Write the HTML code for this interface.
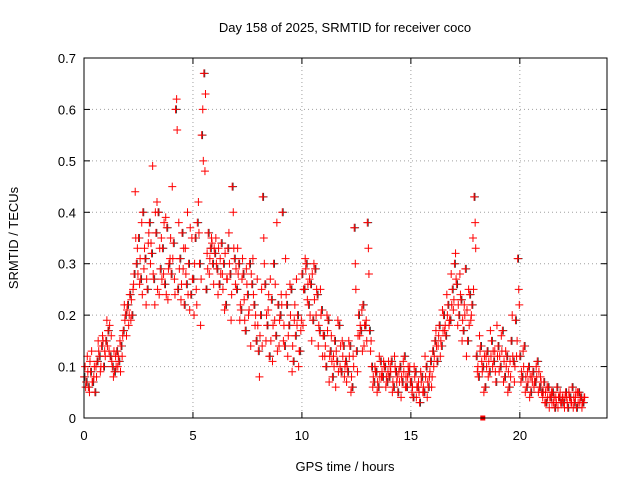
<!DOCTYPE html>
<html><head><meta charset="utf-8"><style>
body{margin:0;background:#fff;}
svg text{font-family:"Liberation Sans",sans-serif;font-size:13px;fill:#000;}
</style></head><body>
<svg id="chart" width="640" height="480" xmlns="http://www.w3.org/2000/svg">
<rect width="640" height="480" fill="#fff"/>
<text x="345" y="32" text-anchor="middle">Day 158 of 2025, SRMTID for receiver coco</text>
<text transform="translate(18,238) rotate(-90)" text-anchor="middle">SRMTID / TECUs</text>
<text x="345" y="471" text-anchor="middle">GPS time / hours</text>
<g id="grid"></g>
<g id="axes"></g>
<g id="black"></g>
<g id="red"></g>
<rect x="84" y="58" width="523" height="360" fill="none" stroke="#000" stroke-width="1"/>
</svg>
<script>
const xTicks=[0,5,10,15,20];
const yTicks=[0,0.1,0.2,0.3,0.4,0.5,0.6,0.7];
const yTickLabels=["0","0.1","0.2","0.3","0.4","0.5","0.6","0.7"];
const t0=0, dt=0.1;
const seriesA=[
.08,.07,.06,.09,.07,.05,.11,.12,.14,.10,
.15,.17,.12,.10,.09,.13,.11,.14,.17,.20,
.22,.24,.20,.28,.30,.35,.27,.40,.31,.25,
.38,.32,.27,.36,.40,.29,.33,.26,.37,.30,
.28,.34,.60,.25,.31,.36,.22,.26,.30,.24,
.27,.35,.38,.30,.55,.67,.25,.36,.33,.30,
.32,.29,.26,.34,.30,.22,.33,.28,.45,.31,
.25,.30,.21,.28,.17,.24,.30,.26,.22,.15,
.13,.20,.43,.26,.18,.12,.23,.30,.16,.22,
.20,.40,.14,.22,.18,.25,.11,.16,.20,.13,
.28,.25,.30,.22,.26,.19,.29,.24,.17,.21,
.16,.10,.19,.13,.08,.15,.11,.18,.09,.14,
.11,.09,.14,.06,.37,.13,.20,.17,.22,.18,
.38,.17,.10,.07,.09,.06,.11,.08,.10,.07,
.08,.11,.06,.09,.05,.10,.07,.12,.06,.09,
.07,.04,.09,.06,.03,.08,.05,.10,.06,.11,
.13,.15,.11,.18,.14,.20,.16,.22,.19,.25,
.30,.26,.20,.23,.17,.29,.15,.24,.22,.43,
.12,.08,.14,.10,.06,.13,.09,.15,.11,.07,
.14,.10,.17,.08,.12,.06,.15,.11,.19,.31,
.12,.08,.14,.06,.10,.05,.09,.07,.11,.06,
.05,.07,.03,.06,.04,.05,.02,.06,.04,.03,
.03,.05,.02,.04,.06,.03,.02,.05,.04,.03];
const seriesB=[
.10,.12,.05,.13,.08,.10,.15,.09,.16,.13,
.19,.13,.16,.08,.12,.10,.15,.12,.22,.16,
.18,.19,.25,.44,.33,.26,.38,.29,.22,.34,
.30,.49,.22,.42,.24,.35,.28,.39,.23,.31,
.45,.27,.62,.38,.23,.29,.33,.40,.21,.35,
.20,.25,.42,.18,.60,.48,.32,.28,.35,.26,
.35,.24,.31,.28,.21,.27,.36,.19,.40,.26,
.33,.19,.27,.23,.29,.20,.14,.31,.18,.27,
.08,.25,.35,.15,.21,.27,.11,.19,.38,.14,
.24,.15,.31,.12,.26,.09,.19,.27,.10,.17,
.18,.31,.23,.27,.15,.30,.20,.14,.25,.12,
.12,.20,.07,.16,.12,.06,.19,.10,.15,.08,
.07,.15,.05,.12,.30,.09,.16,.21,.14,.19,
.33,.13,.06,.10,.05,.12,.08,.11,.06,.09,
.10,.05,.12,.07,.09,.04,.11,.06,.08,.10,
.05,.10,.04,.07,.09,.05,.12,.04,.08,.06,
.10,.17,.14,.12,.21,.17,.24,.18,.28,.21,
.32,.18,.28,.15,.22,.12,.25,.19,.35,.38,
.09,.16,.11,.05,.12,.08,.17,.10,.13,.18,
.09,.16,.07,.13,.05,.11,.20,.07,.12,.25,
.07,.13,.05,.09,.04,.08,.06,.10,.05,.08,
.04,.03,.06,.02,.05,.03,.04,.02,.05,.04,
.02,.04,.05,.03,.02,.04,.05,.03,.02,.04];
const seriesC=[
.06,.09,.11,.07,.10,.08,.13,.10,.15,.12,
.14,.18,.11,.13,.10,.12,.09,.16,.19,.21,
.20,.23,.26,.35,.28,.31,.24,.33,.27,.36,
.34,.28,.40,.25,.33,.27,.38,.24,.29,.35,
.31,.24,.56,.29,.26,.33,.28,.24,.37,.27,
.30,.22,.36,.27,.50,.63,.29,.31,.34,.33,
.30,.33,.28,.25,.32,.27,.30,.24,.33,.29,
.28,.22,.31,.19,.26,.21,.28,.24,.20,.18,
.16,.14,.30,.20,.24,.15,.18,.26,.13,.19,
.22,.18,.24,.16,.20,.14,.22,.18,.13,.19,
.25,.29,.26,.20,.28,.23,.25,.18,.20,.16,
.14,.17,.12,.11,.10,.13,.09,.14,.12,.10,
.10,.12,.08,.10,.25,.16,.18,.13,.18,.15,
.28,.15,.08,.09,.07,.08,.09,.10,.08,.11,
.09,.07,.10,.08,.07,.08,.09,.08,.10,.07,
.06,.08,.06,.05,.07,.06,.08,.07,.09,.08,
.12,.14,.16,.15,.17,.18,.20,.19,.22,.23,
.27,.22,.24,.19,.20,.21,.18,.20,.25,.33,
.10,.13,.09,.12,.10,.11,.12,.13,.09,.12,
.12,.13,.11,.10,.09,.08,.12,.10,.15,.22,
.09,.10,.08,.07,.08,.07,.07,.08,.09,.07,
.05,.05,.04,.04,.03,.04,.03,.04,.03,.04,
.04,.03,.04,.03,.04,.05,.03,.04,.03,.04];
const outlierT=[18.3], outlierV=[0];

const X0=84,X1=607,Y0=418,Y1=58;
const xs=h=>X0+(h/24)*(X1-X0);
const ys=v=>Y0-(v/0.7)*(Y0-Y1);
const NS="http://www.w3.org/2000/svg";
function el(tag,attrs,parent){const e=document.createElementNS(NS,tag);for(const k in attrs)e.setAttribute(k,attrs[k]);parent.appendChild(e);return e;}
const grid=document.getElementById('grid'),axes=document.getElementById('axes');
xTicks.forEach(t=>{
  const x=xs(t);
  if(t>0){const g=el('line',{x1:x,x2:x,y1:Y1,y2:Y0,stroke:'#a0a0a0','stroke-dasharray':'1,3'},grid);
  
  }
  el('line',{x1:x,x2:x,y1:Y0,y2:Y0-6,stroke:'#000'},axes);
  el('line',{x1:x,x2:x,y1:Y1,y2:Y1+6,stroke:'#000'},axes);
  const tx=el('text',{x:x,y:Y0+22,'text-anchor':'middle'},axes);tx.textContent=t;
  
  
});
yTicks.forEach((v,i)=>{
  const y=ys(v);
  if(i>0&&i<yTicks.length-1){const g=el('line',{x1:X0,x2:X1,y1:y,y2:y,stroke:'#a0a0a0','stroke-dasharray':'1,3'},grid);
  
  }
  el('line',{x1:X0,x2:X0+6,y1:y,y2:y,stroke:'#000'},axes);
  el('line',{x1:X1,x2:X1-6,y1:y,y2:y,stroke:'#000'},axes);
  const tx=el('text',{x:X0-8,y:y+5,'text-anchor':'end'},axes);tx.textContent=yTickLabels[i];
  
  
});
function plus(g,h,v,color){
  const x=xs(h),y=ys(v);
  const p=el('path',{d:`M${x-4},${y}h8M${x},${y-4}v8`,stroke:color,'stroke-width':1,fill:'none'},g);
  
  
}
const black=document.getElementById('black'),red=document.getElementById('red');
seriesA.forEach((v,i)=>plus(black,t0+i*dt+0.04,v,'#333'));
seriesA.forEach((v,i)=>plus(red,t0+i*dt,v,'#ff0000'));
seriesB.forEach((v,i)=>plus(red,t0+i*dt+0.05,v,'#ff0000'));
seriesC.forEach((v,i)=>plus(red,t0+i*dt+0.075,v,'#ff0000'));
outlierT.forEach((h,i)=>{
  const r=el('rect',{x:xs(h)-2.5,y:ys(outlierV[i])-2.5,width:5,height:5,fill:'#ff0000'},red);
  
  
});
</script>
</body></html>
